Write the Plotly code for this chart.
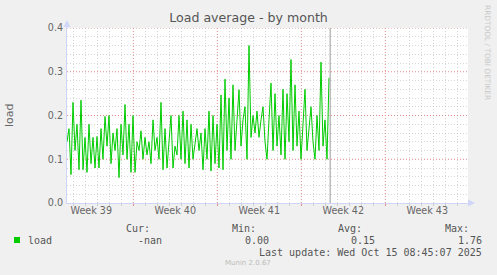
import plotly.graph_objects as go
import pandas as pd

# ---------------- data ----------------
load = [
    0.14, 0.17, 0.065, 0.23, 0.12, 0.18, 0.076, 0.235, 0.076, 0.15,
    0.07, 0.18, 0.09, 0.15, 0.08, 0.152, 0.08, 0.17, 0.10, 0.198,
    0.13, 0.20, 0.09, 0.16, 0.12, 0.17, 0.058, 0.18, 0.11, 0.225,
    0.10, 0.18, 0.07,
    0.20, 0.07, 0.14, 0.12, 0.165, 0.10, 0.15, 0.11, 0.14, 0.09,
    0.19, 0.12, 0.15, 0.10, 0.23, 0.076, 0.17, 0.08, 0.15, 0.20,
    0.08, 0.13, 0.11, 0.20, 0.10, 0.21, 0.09, 0.19, 0.08, 0.18,
    0.10, 0.14, 0.17,
    0.12, 0.16, 0.076, 0.17, 0.10, 0.21, 0.073, 0.20, 0.09, 0.18,
    0.08, 0.247, 0.076, 0.283, 0.12, 0.24, 0.10, 0.27, 0.12, 0.20,
    0.259, 0.13, 0.19, 0.22, 0.10, 0.36, 0.15, 0.20, 0.16, 0.21,
    0.15, 0.19, 0.22,
    0.14, 0.10, 0.19, 0.274, 0.12, 0.25, 0.13, 0.20, 0.11, 0.26,
    0.10, 0.25, 0.14, 0.328, 0.12, 0.27, 0.13, 0.21, 0.10, 0.19,
    0.26, 0.12, 0.18, 0.22, 0.14, 0.10, 0.20, 0.12, 0.322, 0.13,
    0.19, 0.10, 0.286,
]
data_start = "2025-09-23 11:24"
data_step = "4h"
now_time = "2025-10-15 09:45"
x_range = ["2025-09-23 11:24", "2025-10-26 21:24"]
week_starts = ["2025-09-29", "2025-10-06", "2025-10-13", "2025-10-20"]
week_label_pos = ["2025-09-25 12:00", "2025-10-02 12:00", "2025-10-09 12:00",
                  "2025-10-16 12:00", "2025-10-23 12:00"]
week_labels = ["Week 39", "Week 40", "Week 41", "Week 42", "Week 43"]
y_range = [0, 0.4]
y_major = [0.0, 0.1, 0.2, 0.3, 0.4]
title = "Load average - by month"
ylabel = "load"
legend_name = "load"
stat_heads = ["Cur:", "Min:", "Avg:", "Max:"]
stat_vals = ["-nan", "0.00", "0.15", "1.76"]
last_update = "Last update: Wed Oct 15 08:45:07 2025"
credit = "RRDTOOL / TOBI OETIKER"
munin = "Munin 2.0.67"

# ---------------- layout helpers ----------------
W, H = 497, 275
L, R, T, B = 67, 29, 28, 72
PW, PH = W - L - R, H - T - B


def px(x):
    return (x - L) / PW


def py(y):
    return (H - B - y) / PH


times = pd.date_range(data_start, periods=len(load), freq=data_step)

# minor grid positions (days / 0.02 steps) excluding the major ones
days = pd.date_range("2025-09-24", "2025-10-26", freq="D")
week_set = set(pd.to_datetime(week_starts))
x_minor = [d for d in days if d not in week_set]
y_minor = [round(k * 0.02, 2) for k in range(1, 20) if k % 5 != 0]

GREEN = "#00CC00"
AXIS = "#CFD6F8"
FONT = "#666666"
MGRID = "#E48A8A"
GRID = "rgba(150,150,150,0.38)"
DASH = "1px,2px"
SANS = "DejaVu Sans"
MONO = "DejaVu Sans Mono"

fig = go.Figure()
fig.add_trace(go.Scatter(x=times, y=load, mode="lines",
                         line=dict(color=GREEN, width=1), name=legend_name,
                         hoverinfo="skip"))

fig.update_layout(
    width=W, height=H,
    margin=dict(l=L, r=R, t=T, b=B, pad=0),
    paper_bgcolor="#F0F0F0", plot_bgcolor="#FFFFFF",
    showlegend=False,
    title=dict(text=title, x=0.5, xref="container", xanchor="center",
               y=1 - 18 / H, yref="container", yanchor="middle",
               font=dict(family=SANS, size=12.6, color="#555555")),
    xaxis=dict(
        type="date", range=x_range, showticklabels=False,
        tickmode="array", tickvals=week_starts,
        showgrid=False,
        ticks="outside", ticklen=2, tickcolor=MGRID,
        minor=dict(tickmode="array", tickvals=x_minor, showgrid=True, gridcolor=GRID,
                   griddash=DASH, ticks="outside", ticklen=2,
                   tickcolor="rgba(150,150,150,0.4)"),
        showline=True, linecolor=AXIS, linewidth=1, zeroline=False,
    ),
    xaxis2=dict(
        type="date", range=x_range, overlaying="x", anchor="y", side="bottom",
        tickvals=week_label_pos, ticktext=week_labels, showgrid=False,
        ticks="", showline=False, zeroline=False,
        tickfont=dict(family=SANS, size=9.6, color=FONT),
    ),
    yaxis=dict(
        range=y_range, tickmode="array", tickvals=y_major, tickformat=".1f",
        showgrid=False,
        minor=dict(tickmode="array", tickvals=y_minor, showgrid=True,
                   gridcolor=GRID, griddash=DASH),
        showline=True, linecolor=AXIS, linewidth=1, zeroline=False,
        ticks="", ticklabelstandoff=1,
        tickfont=dict(family=SANS, size=9.6, color=FONT),
    ),
)

# dummy trace on xaxis2 so it renders
fig.add_trace(go.Scatter(x=[times[0]], y=[None], xaxis="x2", yaxis="y",
                         mode="lines", showlegend=False, hoverinfo="skip"))

shapes = []
# major grid (red dotted) drawn below the data
for w in week_starts:
    shapes.append(dict(type="line", xref="x", yref="paper", x0=w, x1=w, y0=0, y1=1,
                       layer="below", line=dict(color=MGRID, width=1, dash=DASH)))
for v in y_major[1:]:
    shapes.append(dict(type="line", xref="paper", yref="y", x0=0, x1=1, y0=v, y1=v,
                       layer="below", line=dict(color=MGRID, width=1, dash=DASH)))
# "now" rule
shapes.append(dict(type="line", xref="x", yref="paper", x0=now_time, x1=now_time,
                   y0=0, y1=1, line=dict(color="#999999", width=1)))
# axis extensions and arrows
shapes.append(dict(type="line", xref="paper", yref="paper",
                   x0=0, x1=0, y0=1, y1=py(22), line=dict(color=AXIS, width=1)))
shapes.append(dict(type="line", xref="paper", yref="paper",
                   x0=1, x1=px(471), y0=0, y1=0, line=dict(color=AXIS, width=1)))
shapes.append(dict(type="path", xref="paper", yref="paper",
                   path=f"M {px(63.5)},{py(27)} L {px(70.5)},{py(27)} L {px(67)},{py(20)} Z",
                   fillcolor=AXIS, line=dict(width=0)))
shapes.append(dict(type="path", xref="paper", yref="paper",
                   path=f"M {px(468)},{py(199.5)} L {px(468)},{py(206.5)} L {px(475)},{py(203)} Z",
                   fillcolor=AXIS, line=dict(width=0)))
# legend swatch
shapes.append(dict(type="rect", xref="paper", yref="paper",
                   x0=px(14), x1=px(20), y0=py(243), y1=py(237),
                   fillcolor=GREEN, line=dict(width=0)))
fig.update_layout(shapes=shapes)

ann = []


def text(t, x, y, anchor="left", size=10, color="#555555", family=MONO, angle=0):
    ann.append(dict(text=t, x=px(x), y=py(y), xref="paper", yref="paper",
                    xanchor=anchor, yanchor="middle", showarrow=False,
                    textangle=angle, borderpad=0,
                    font=dict(family=family, size=size, color=color)))


text(ylabel, 9, 115, anchor="center", size=11, color=FONT, family=SANS, angle=-90)
text(credit, 488, 52, anchor="center", size=7.4, color="#C8C8C8", family=SANS, angle=90)
text(legend_name, 27, 240)
head_right = [151, 257, 363, 470]
val_right = [163, 270, 376, 483]
for h, hr in zip(stat_heads, head_right):
    text(h, hr, 228, anchor="right")
for v, vr in zip(stat_vals, val_right):
    text(v, vr, 240, anchor="right")
text(last_update, 483, 252, anchor="right")
text(munin, 248, 263, anchor="center", size=7, color="#BBBBBB", family=SANS)
fig.update_layout(annotations=ann)

fig.write_html("out.html")
